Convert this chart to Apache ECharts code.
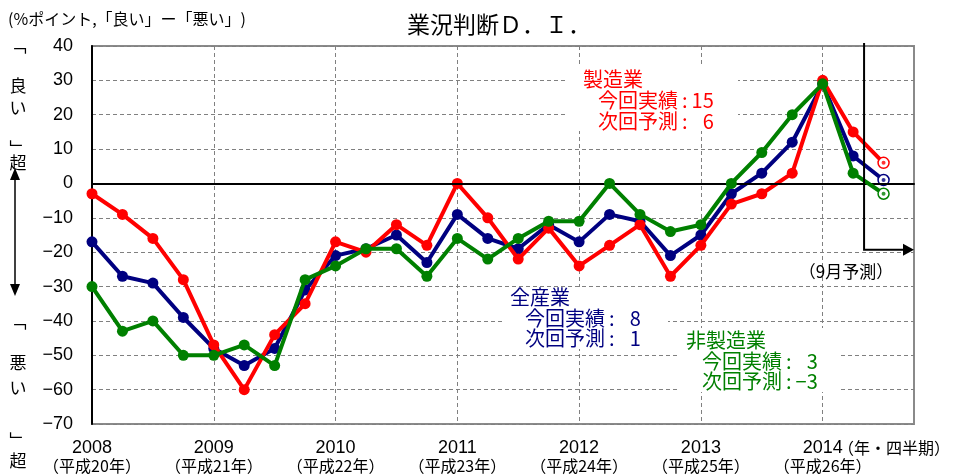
<!DOCTYPE html>
<html><head><meta charset="utf-8">
<script src="https://cdn.jsdelivr.net/npm/echarts@6/dist/echarts.min.js"></script>
<style>html,body{margin:0;padding:0;background:#fff}#c{width:955px;height:475px}</style>
</head><body><div id="c"></div>
<script>
// ---- data ----
const yearLabels = ['2008','2009','2010','2011','2012','2013','2014'];
const heiseiLabels = ['（平成20年）','（平成21年）','（平成22年）','（平成23年）','（平成24年）','（平成25年）','（平成26年）'];
const quarterNames = ['3月','6月','9月','12月'];
const yTicks = {min:-70, max:40, step:10};
// last value of each series = 9月予測 (forecast)
const allIndustries    = [-17,-27,-29,-39,-48,-53,-48,-31,-21,-19,-15,-23,-9,-16,-19,-12,-17,-9,-11,-21,-15,-3,3,12,29,8,1];
const manufacturing    = [-3,-9,-16,-28,-47,-60,-44,-35,-17,-20,-12,-18,0,-10,-22,-13,-24,-18,-12,-27,-18,-6,-3,3,30,15,6];
const nonManufacturing = [-30,-43,-40,-50,-50,-47,-53,-28,-24,-19,-19,-27,-16,-22,-16,-11,-11,0,-9,-14,-12,0,9,20,29,3,-3];
const forecastDividerValue = -19.3;

// ---- build categories (quarters) ----
const categories = [];
yearLabels.forEach(y => quarterNames.forEach(q => categories.push(y + '年' + q)));

const RED = '#FF0000', NAVY = '#000080', GREEN = '#008000';
const JP = '"Noto Sans CJK JP", "Noto Sans", sans-serif';
const NUM = '"Liberation Sans", "Noto Sans CJK JP", sans-serif';
const FS = '\u2009:\u2009', PAD = '\u2007';

function mkSeries(name, data, color, z, extra) {
  const last = data.length - 1;
  return Object.assign({
    name, type: 'line', z,
    data: data.map((v, i) => i === last
      ? {value: v, symbol: 'circle', symbolSize: 11, itemStyle: {color: '#fff', borderColor: color, borderWidth: 1.5}}
      : v),
    symbol: 'circle', symbolSize: 11,
    lineStyle: {color, width: 4},
    itemStyle: {color},
    emphasis: {disabled: true},
    animation: false
  }, extra || {});
}
function mkDot(data, color, z) {
  const last = data.length - 1;
  return {type: 'scatter', z, data: [[last, data[last]]], symbolSize: 4, itemStyle: {color}, animation: false, emphasis: {disabled: true}};
}

const chart = echarts.init(document.getElementById('c'), null, {renderer: 'canvas'});

function txt(text, x, y, size, color, align, fam) {
  return {
    type: 'text', x, y, z: 20,
    style: {text, fill: color || '#000', font: size + 'px ' + (fam || JP),
      align: align || 'left', textAlign: align || 'left',
      verticalAlign: 'middle', textVerticalAlign: 'middle'}
  };
}
function signed(v) { return (v < 0 ? '−' + Math.abs(v) : PAD + v); }

const staticGraphics = [
  txt('業況判断Ｄ．Ｉ．', 407, 24, 23, '#000'),
  txt('(%ポイント,「良い」ー「悪い」)', 8, 19, 16, '#000'),
  // left vertical labels
  txt('﹁', 18, 46, 17, '#000', 'center'),
  txt('良', 18, 86, 17, '#000', 'center'),
  txt('い', 18, 108, 17, '#000', 'center'),
  txt('﹂', 18, 149, 17, '#000', 'center'),
  txt('超', 18, 163, 17, '#000', 'center'),
  txt('﹁', 18, 322, 17, '#000', 'center'),
  txt('悪', 18, 363, 17, '#000', 'center'),
  txt('い', 18, 388, 17, '#000', 'center'),
  txt('﹂', 18, 441, 17, '#000', 'center'),
  txt('超', 18, 461, 17, '#000', 'center'),
  {type: 'line', z: 20, shape: {x1: 15, y1: 178, x2: 15, y2: 286}, style: {stroke: '#000', lineWidth: 1.5}},
  {type: 'polygon', z: 20, shape: {points: [[15, 168], [10, 180], [20, 180]]}, style: {fill: '#000'}},
  {type: 'polygon', z: 20, shape: {points: [[15, 296], [10, 284], [20, 284]]}, style: {fill: '#000'}},
  // annotation boxes
  {type: 'rect', z: 1, shape: {x: 568, y: 66, width: 170, height: 65}, style: {fill: '#fff'}},
  txt('製造業', 583, 79, 20, RED),
  txt('今回実績' + FS + signed(manufacturing[manufacturing.length - 2]).replace(PAD, ''), 598, 100, 20, RED),
  txt('次回予測' + FS + PAD + manufacturing[manufacturing.length - 1], 598, 121, 20, RED),
  {type: 'rect', z: 1, shape: {x: 505, y: 287, width: 163, height: 62}, style: {fill: '#fff'}},
  txt('全産業', 510, 297, 20, NAVY),
  txt('今回実績' + FS + signed(allIndustries[allIndustries.length - 2]), 525, 318, 20, NAVY),
  txt('次回予測' + FS + signed(allIndustries[allIndustries.length - 1]), 525, 338, 20, NAVY),
  {type: 'rect', z: 1, shape: {x: 680, y: 328, width: 160, height: 64}, style: {fill: '#fff'}},
  txt('非製造業', 686, 340, 20, GREEN),
  txt('今回実績' + FS + signed(nonManufacturing[nonManufacturing.length - 2]), 702, 361, 20, GREEN),
  txt('次回予測' + FS + signed(nonManufacturing[nonManufacturing.length - 1]), 702, 381, 20, GREEN),
  txt('（9月予測）', 846, 272, 17, '#000', 'center'),
  txt('（年・四半期）', 838, 448, 16, '#000')
];

chart.setOption({
  animation: false,
  backgroundColor: '#fff',
  grid: {left: 92, right: 41, top: 46, bottom: 51, show: true, borderColor: '#8a8a8a', borderWidth: 2, backgroundColor: 'transparent'},
  xAxis: {
    type: 'category', data: categories.slice(0, 28), boundaryGap: false,
    axisLine: {show: true, lineStyle: {color: '#000', width: 2}},
    axisTick: {show: false},
    axisLabel: {
      interval: (i) => i % 4 === 0,
      margin: 16,
      formatter: (v, i) => {
        const k = i / 4;
        if (i % 4 !== 0 || k >= yearLabels.length) return '';
        return '{y|' + yearLabels[k] + '}\n{h|' + heiseiLabels[k] + '}';
      },
      rich: {
        y: {fontSize: 18, fontFamily: NUM, color: '#000', lineHeight: 17},
        h: {fontSize: 16, fontFamily: JP, color: '#000', lineHeight: 18}
      }
    },
    splitLine: {show: true, interval: (i) => i % 4 === 0 && i > 0, lineStyle: {color: '#808080', type: [4, 3], width: 1}}
  },
  yAxis: {
    type: 'value', min: yTicks.min, max: yTicks.max, interval: yTicks.step,
    axisLine: {show: true, lineStyle: {color: '#000', width: 2}},
    axisTick: {show: false},
    axisLabel: {fontSize: 18, fontFamily: NUM, color: '#000', margin: 19,
      formatter: (v) => (v < 0 ? '−' + Math.abs(v) : String(v))},
    splitLine: {show: true, lineStyle: {color: '#808080', type: [4, 3], width: 1}}
  },
  series: [
    mkSeries('全産業', allIndustries, NAVY, 2, {
      markLine: {silent: true, symbol: ['none', 'none'], label: {show: false},
        lineStyle: {color: '#000', width: 2, type: 'solid'}, data: [{yAxis: 0}], animation: false}
    }),
    mkDot(allIndustries, NAVY, 3),
    mkSeries('製造業', manufacturing, RED, 4),
    mkDot(manufacturing, RED, 5),
    mkSeries('非製造業', nonManufacturing, GREEN, 6),
    mkDot(nonManufacturing, GREEN, 7)
  ],
  graphic: {elements: staticGraphics}
});

// forecast divider: between the June actual and September forecast quarter
const x25 = chart.convertToPixel({xAxisIndex: 0}, 25);
const x26 = chart.convertToPixel({xAxisIndex: 0}, 26);
const xEnd = chart.convertToPixel({xAxisIndex: 0}, 27);
const xd = x25 + (x26 - x25) * 0.36;
const yTop = chart.convertToPixel({yAxisIndex: 0}, yTicks.max) - 3;
const yArr = chart.convertToPixel({yAxisIndex: 0}, forecastDividerValue);
chart.setOption({
  graphic: {elements: staticGraphics.concat([
    {type: 'polyline', z: 30, shape: {points: [[xd, yTop], [xd, yArr], [xEnd - 10, yArr]]}, style: {stroke: '#000', lineWidth: 2, fill: null}},
    {type: 'polygon', z: 30, shape: {points: [[xEnd, yArr], [xEnd - 11, yArr - 6], [xEnd - 11, yArr + 6]]}, style: {fill: '#000'}}
  ])}
}, {replaceMerge: ['graphic']});
</script>
</body></html>
